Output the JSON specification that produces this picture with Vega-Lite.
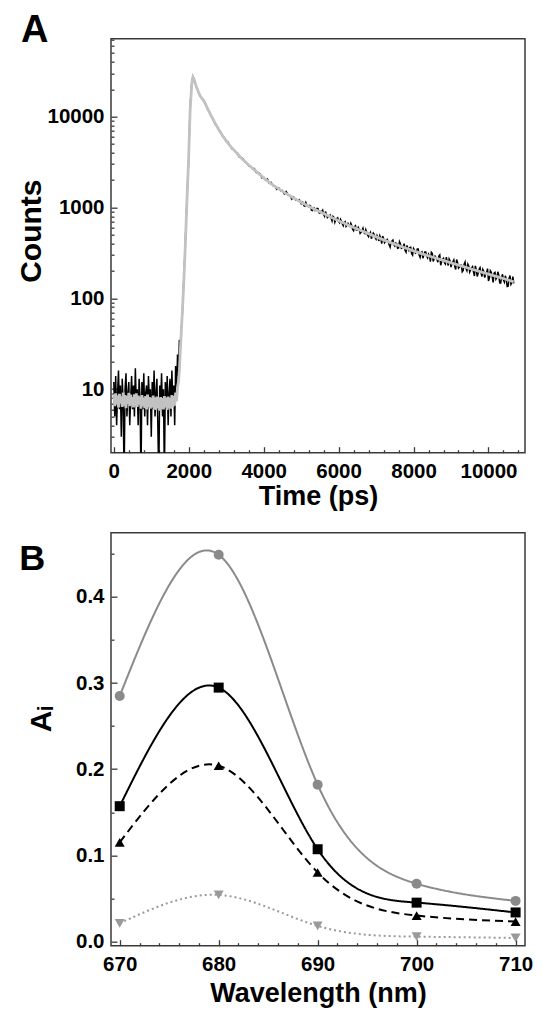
{
  "$schema": "https://vega.github.io/schema/vega-lite/v6.json",
  "padding": {"left": 16, "top": 10.7, "right": 8, "bottom": 5},
  "background": "white",
  "config": {
    "font": "Liberation Sans",
    "view": {"stroke": "#3a3a3a", "strokeWidth": 1.5},
    "concat": {"spacing": 21},
    "axis": {"domain": false, "grid": false, "tickColor": "#3a3a3a", "tickWidth": 1.3, "tickSize": -6, "labelFont": "Liberation Sans", "labelFontSize": 20.5, "labelFontWeight": "bold", "labelColor": "black", "titleFont": "Liberation Sans", "titleFontWeight": "bold", "titleColor": "black", "labelFlush": false, "labelOverlap": false},
    "axisX": {"labelPadding": 14.5, "titleFontSize": 27, "titlePadding": 1.5},
    "axisY": {"labelPadding": 13, "titleFontSize": 30},
    "title": {"font": "Liberation Sans", "fontWeight": "bold", "color": "black", "anchor": "start", "frame": "bounds", "baseline": "alphabetic"},
    "legend": {"orient": "none", "legendX": 184, "legendY": 8.3, "padding": 0,
               "titleFont": "Liberation Sans", "titleFontSize": 21.5, "titleFontWeight": "bold", "titleColor": "black", "titlePadding": 7, "titleLimit": 500, "titleAnchor": "end",
               "labelFont": "Liberation Sans", "labelFontSize": 21.5, "labelFontWeight": "normal", "labelColor": "black", "labelOffset": 35.4, "labelLimit": 400, "rowPadding": 4.1,
               "symbolSize": 150, "symbolStrokeWidth": 2, "symbolOpacity": 1}
  },
  "datasets": {
    "obs": [
      {"t":0,"c":12},{"t":25,"c":5},{"t":50,"c":14},{"t":75,"c":4},{"t":100,"c":9},{"t":125,"c":16},{"t":150,"c":6},{"t":175,"c":11},{"t":200,"c":3},{"t":225,"c":13},{"t":250,"c":7},{"t":275,"c":1},{"t":300,"c":10},{"t":325,"c":15},{"t":350,"c":5},{"t":375,"c":9},{"t":400,"c":12},{"t":425,"c":4},{"t":450,"c":8},{"t":475,"c":14},{"t":500,"c":6},{"t":525,"c":11},{"t":550,"c":5},{"t":575,"c":17},{"t":600,"c":7},{"t":625,"c":10},{"t":650,"c":4},{"t":675,"c":13},{"t":700,"c":8},{"t":725,"c":1},{"t":750,"c":12},{"t":775,"c":6},{"t":800,"c":15},{"t":825,"c":5},{"t":850,"c":9},{"t":875,"c":11},{"t":900,"c":4},{"t":925,"c":14},{"t":950,"c":7},{"t":975,"c":10},{"t":1000,"c":3},{"t":1025,"c":12},{"t":1050,"c":6},{"t":1075,"c":16},{"t":1100,"c":5},{"t":1125,"c":9},{"t":1150,"c":13},{"t":1175,"c":4},{"t":1200,"c":1},{"t":1225,"c":11},{"t":1250,"c":7},{"t":1275,"c":15},{"t":1300,"c":5},{"t":1325,"c":10},{"t":1350,"c":1},{"t":1375,"c":12},{"t":1400,"c":6},{"t":1425,"c":14},{"t":1450,"c":4},{"t":1475,"c":9},{"t":1500,"c":13},{"t":1525,"c":5},{"t":1550,"c":16},{"t":1575,"c":7},{"t":1600,"c":11},{"t":1625,"c":4},{"t":1650,"c":18},{"t":1675,"c":8},{"t":1700,"c":24},{"t":1725,"c":14},{"t":1750,"c":35},{"t":1775,"c":28},{"t":1800,"c":45},{"t":1825,"c":62},{"t":1850,"c":110},{"t":1875,"c":190},{"t":1900,"c":330},{"t":1925,"c":640},{"t":1950,"c":1180},{"t":1975,"c":2100},{"t":2000,"c":3400},{"t":2025,"c":8900},{"t":2050,"c":15500},{"t":2075,"c":22000},{"t":2100,"c":26200},{"t":2125,"c":27100},
      {"t":2150,"c":25190},{"t":2200,"c":21382},{"t":2250,"c":19041},{"t":2300,"c":16805},{"t":2350,"c":16013},{"t":2400,"c":14976},{"t":2450,"c":13811},{"t":2500,"c":12178},{"t":2550,"c":11253},{"t":2600,"c":10139},{"t":2650,"c":9434},{"t":2700,"c":8325},{"t":2750,"c":7809},{"t":2800,"c":7166},{"t":2850,"c":6782},{"t":2900,"c":6097},{"t":2950,"c":5853},{"t":3000,"c":5334},{"t":3050,"c":5242},{"t":3100,"c":4779},{"t":3150,"c":4443},{"t":3200,"c":4340},{"t":3250,"c":4094},{"t":3300,"c":3968},{"t":3350,"c":3572},{"t":3400,"c":3524},{"t":3450,"c":3437},{"t":3500,"c":3160},{"t":3550,"c":3071},{"t":3600,"c":2865},{"t":3650,"c":2842},{"t":3700,"c":2674},{"t":3750,"c":2687},{"t":3800,"c":2430},{"t":3850,"c":2400},{"t":3900,"c":2362},{"t":3950,"c":2115},{"t":4000,"c":2148},{"t":4050,"c":1995},{"t":4100,"c":2057},{"t":4150,"c":1851},{"t":4200,"c":1888},{"t":4250,"c":1743},{"t":4300,"c":1713},{"t":4350,"c":1581},{"t":4400,"c":1644},{"t":4450,"c":1526},{"t":4500,"c":1536},{"t":4550,"c":1410},{"t":4600,"c":1492},{"t":4650,"c":1373},{"t":4700,"c":1358},{"t":4750,"c":1233},{"t":4800,"c":1306},{"t":4850,"c":1207},{"t":4900,"c":1210},{"t":4950,"c":1218},{"t":5000,"c":1103},{"t":5050,"c":1135},{"t":5100,"c":1036},{"t":5150,"c":1070},{"t":5200,"c":1020},{"t":5250,"c":1045},{"t":5300,"c":925},{"t":5350,"c":990},{"t":5400,"c":937},{"t":5450,"c":972},{"t":5500,"c":864},{"t":5550,"c":898},{"t":5600,"c":839},{"t":5650,"c":901},{"t":5700,"c":774},{"t":5750,"c":803},{"t":5800,"c":766},{"t":5850,"c":800},{"t":5900,"c":687},{"t":5950,"c":753},{"t":6000,"c":704},{"t":6050,"c":740},{"t":6100,"c":659},{"t":6150,"c":683},{"t":6200,"c":619},{"t":6250,"c":668},{"t":6300,"c":620},{"t":6350,"c":635},{"t":6400,"c":554},{"t":6450,"c":630},{"t":6500,"c":566},{"t":6550,"c":574},{"t":6600,"c":532},{"t":6650,"c":591},{"t":6700,"c":517},{"t":6750,"c":534},{"t":6800,"c":476},{"t":6850,"c":532},{"t":6900,"c":491},{"t":6950,"c":505},{"t":7000,"c":447},{"t":7050,"c":466},{"t":7100,"c":488},{"t":7150,"c":400},{"t":7200,"c":456},{"t":7250,"c":422},{"t":7300,"c":446},{"t":7350,"c":386},{"t":7400,"c":416},{"t":7450,"c":438},{"t":7500,"c":377},{"t":7550,"c":400},{"t":7600,"c":359},{"t":7650,"c":400},{"t":7700,"c":361},{"t":7750,"c":400},{"t":7800,"c":322},{"t":7850,"c":352},{"t":7900,"c":361},{"t":7950,"c":310},{"t":8000,"c":353},{"t":8050,"c":315},{"t":8100,"c":350},{"t":8150,"c":299},{"t":8200,"c":319},{"t":8250,"c":276},{"t":8300,"c":324},{"t":8350,"c":293},{"t":8400,"c":306},{"t":8450,"c":253},{"t":8500,"c":312},{"t":8550,"c":273},{"t":8600,"c":280},{"t":8650,"c":250},{"t":8700,"c":300},{"t":8750,"c":254},{"t":8800,"c":276},{"t":8850,"c":238},{"t":8900,"c":253},{"t":8950,"c":271},{"t":9000,"c":221},{"t":9050,"c":252},{"t":9100,"c":225},{"t":9150,"c":267},{"t":9200,"c":215},{"t":9250,"c":234},{"t":9300,"c":196},{"t":9350,"c":237},{"t":9400,"c":213},{"t":9450,"c":238},{"t":9500,"c":194},{"t":9550,"c":217},{"t":9600,"c":195},{"t":9650,"c":228},{"t":9700,"c":174},{"t":9750,"c":209},{"t":9800,"c":192},{"t":9850,"c":208},{"t":9900,"c":169},{"t":9950,"c":192},{"t":10000,"c":155},{"t":10050,"c":201},{"t":10100,"c":172},{"t":10150,"c":189},{"t":10200,"c":162},{"t":10250,"c":196},{"t":10300,"c":148},{"t":10350,"c":170},{"t":10400,"c":159},{"t":10450,"c":177},{"t":10500,"c":135},{"t":10550,"c":167},{"t":10600,"c":142},{"t":10650,"c":173},{"t":10675,"c":146},
      {"t":5025,"c":1153},{"t":5075,"c":1048},{"t":5125,"c":1133},{"t":5175,"c":1030},{"t":5225,"c":1053},{"t":5275,"c":933},{"t":5325,"c":982},{"t":5375,"c":923},{"t":5425,"c":979},{"t":5475,"c":874},{"t":5525,"c":905},{"t":5575,"c":932},{"t":5625,"c":800},{"t":5675,"c":836},{"t":5725,"c":793},{"t":5775,"c":827},{"t":5825,"c":711},{"t":5875,"c":780},{"t":5925,"c":736},{"t":5975,"c":769},{"t":6025,"c":680},{"t":6075,"c":708},{"t":6125,"c":630},{"t":6175,"c":698},{"t":6225,"c":639},{"t":6275,"c":633},{"t":6325,"c":671},{"t":6375,"c":574},{"t":6425,"c":614},{"t":6475,"c":566},{"t":6525,"c":603},{"t":6575,"c":518},{"t":6625,"c":561},{"t":6675,"c":529},{"t":6725,"c":571},{"t":6775,"c":495},{"t":6825,"c":512},{"t":6875,"c":453},{"t":6925,"c":523},{"t":6975,"c":465},{"t":7025,"c":492},{"t":7075,"c":428},{"t":7125,"c":459},{"t":7175,"c":485},{"t":7225,"c":409},{"t":7275,"c":440},{"t":7325,"c":417},{"t":7375,"c":366},{"t":7425,"c":428},{"t":7475,"c":390},{"t":7525,"c":407},{"t":7575,"c":356},{"t":7625,"c":421},{"t":7675,"c":355},{"t":7725,"c":369},{"t":7775,"c":336},{"t":7825,"c":383},{"t":7875,"c":336},{"t":7925,"c":365},{"t":7975,"c":299},{"t":8025,"c":339},{"t":8075,"c":323},{"t":8125,"c":350},{"t":8175,"c":282},{"t":8225,"c":325},{"t":8275,"c":300},{"t":8325,"c":324},{"t":8375,"c":279},{"t":8425,"c":291},{"t":8475,"c":321},{"t":8525,"c":254},{"t":8575,"c":291},{"t":8625,"c":267},{"t":8675,"c":291},{"t":8725,"c":231},{"t":8775,"c":269},{"t":8825,"c":246},{"t":8875,"c":284},{"t":8925,"c":230},{"t":8975,"c":257},{"t":9025,"c":241},{"t":9075,"c":264},{"t":9125,"c":208},{"t":9175,"c":249},{"t":9225,"c":221},{"t":9275,"c":232},{"t":9325,"c":203},{"t":9375,"c":251},{"t":9425,"c":201},{"t":9475,"c":226},{"t":9525,"c":205},{"t":9575,"c":224},{"t":9625,"c":176},{"t":9675,"c":205},{"t":9725,"c":189},{"t":9775,"c":218},{"t":9825,"c":173},{"t":9875,"c":198},{"t":9925,"c":187},{"t":9975,"c":212},{"t":10025,"c":167},{"t":10075,"c":193},{"t":10125,"c":150},{"t":10175,"c":193},{"t":10225,"c":169},{"t":10275,"c":180},{"t":10325,"c":147},{"t":10375,"c":184},{"t":10425,"c":151},{"t":10475,"c":162},{"t":10525,"c":136},{"t":10575,"c":178},{"t":10625,"c":148}
    ],
    "fit": [
      {"t":0,"c":8.8},{"t":25,"c":6.5},{"t":50,"c":9.0},{"t":75,"c":6.8},{"t":100,"c":8.5},{"t":125,"c":6.3},{"t":150,"c":8.9},{"t":175,"c":7.0},{"t":200,"c":8.3},{"t":225,"c":6.4},{"t":250,"c":9.2},{"t":275,"c":6.6},{"t":300,"c":8.6},{"t":325,"c":6.2},{"t":350,"c":8.4},{"t":375,"c":6.9},{"t":400,"c":9.1},{"t":425,"c":6.5},{"t":450,"c":8.7},{"t":475,"c":6.7},{"t":500,"c":8.2},{"t":525,"c":6.3},{"t":550,"c":8.8},{"t":575,"c":6.6},{"t":600,"c":9.0},{"t":625,"c":6.4},{"t":650,"c":8.5},{"t":675,"c":6.8},{"t":700,"c":8.3},{"t":725,"c":6.1},{"t":750,"c":8.6},{"t":775,"c":6.5},{"t":800,"c":8.1},{"t":825,"c":6.2},{"t":850,"c":8.4},{"t":875,"c":6.0},{"t":900,"c":8.7},{"t":925,"c":6.4},{"t":950,"c":8.2},{"t":975,"c":6.1},{"t":1000,"c":8.0},{"t":1025,"c":6.3},{"t":1050,"c":8.5},{"t":1075,"c":6.0},{"t":1100,"c":8.1},{"t":1125,"c":5.9},{"t":1150,"c":8.3},{"t":1175,"c":6.2},{"t":1200,"c":7.9},{"t":1225,"c":5.8},{"t":1250,"c":8.2},{"t":1275,"c":6.1},{"t":1300,"c":8.0},{"t":1325,"c":6.0},{"t":1350,"c":8.4},{"t":1375,"c":6.3},{"t":1400,"c":8.1},{"t":1425,"c":5.9},{"t":1450,"c":8.3},{"t":1475,"c":6.2},{"t":1500,"c":8.0},{"t":1525,"c":6.1},{"t":1550,"c":8.6},{"t":1575,"c":6.4},{"t":1600,"c":8.4},{"t":1625,"c":6.6},{"t":1650,"c":9.2},{"t":1675,"c":7.4},{"t":1700,"c":10.5},{"t":1725,"c":12},{"t":1750,"c":16},{"t":1775,"c":27},{"t":1820,"c":60},{"t":1863,"c":135},{"t":1907,"c":370},{"t":1952,"c":1200},{"t":1995,"c":3300},{"t":2037,"c":11800},{"t":2082,"c":23300},{"t":2112,"c":27100},{"t":2150,"c":25000},{"t":2200,"c":21500},{"t":2250,"c":19000},{"t":2300,"c":17000},{"t":2350,"c":15900},{"t":2400,"c":15000},{"t":2500,"c":12300},{"t":2600,"c":10200},{"t":2700,"c":8500},{"t":2800,"c":7200},{"t":2900,"c":6200},{"t":3000,"c":5400},{"t":3100,"c":4800},{"t":3200,"c":4300},{"t":3300,"c":3900},{"t":3400,"c":3500},{"t":3500,"c":3200},{"t":3600,"c":2930},{"t":3700,"c":2700},{"t":3800,"c":2500},{"t":3900,"c":2300},{"t":4000,"c":2120},{"t":4200,"c":1820},{"t":4400,"c":1600},{"t":4600,"c":1420},{"t":4800,"c":1270},{"t":5000,"c":1140},{"t":5200,"c":1030},{"t":5400,"c":940},{"t":5600,"c":860},{"t":5800,"c":780},{"t":6000,"c":715},{"t":6250,"c":640},{"t":6500,"c":580},{"t":6750,"c":525},{"t":7000,"c":475},{"t":7250,"c":432},{"t":7500,"c":395},{"t":7750,"c":362},{"t":8000,"c":333},{"t":8250,"c":307},{"t":8500,"c":285},{"t":8750,"c":265},{"t":9000,"c":246},{"t":9250,"c":229},{"t":9500,"c":213},{"t":9750,"c":198},{"t":10000,"c":185},{"t":10250,"c":172},{"t":10500,"c":160},{"t":10675,"c":152}
    ],
    "amp": [
      {"wl":670,"tau":"31 ps","a":0.157},{"wl":680,"tau":"31 ps","a":0.2947},{"wl":690,"tau":"31 ps","a":0.107},{"wl":700,"tau":"31 ps","a":0.045},{"wl":710,"tau":"31 ps","a":0.0336},
      {"wl":670,"tau":"164 ps","a":0.285},{"wl":680,"tau":"164 ps","a":0.449},{"wl":690,"tau":"164 ps","a":0.182},{"wl":700,"tau":"164 ps","a":0.067},{"wl":710,"tau":"164 ps","a":0.047},
      {"wl":670,"tau":"571 ps","a":0.115},{"wl":680,"tau":"571 ps","a":0.204},{"wl":690,"tau":"571 ps","a":0.080},{"wl":700,"tau":"571 ps","a":0.030},{"wl":710,"tau":"571 ps","a":0.023},
      {"wl":670,"tau":"1.9 ns","a":0.021},{"wl":680,"tau":"1.9 ns","a":0.054},{"wl":690,"tau":"1.9 ns","a":0.018},{"wl":700,"tau":"1.9 ns","a":0.0055},{"wl":710,"tau":"1.9 ns","a":0.004}
    ]
  },
  "vconcat": [
    {
      "width": 414,
      "height": 414,
      "title": {"text": "A", "fontSize": 38, "offset": -11, "dx": 4},
      "layer": [
        {
          "data": {"name": "obs"},
          "mark": {"type": "line", "color": "black", "strokeWidth": 1.5, "clip": true},
          "encoding": {
            "x": {"field": "t", "type": "quantitative", "scale": {"domain": [-75, 10975], "nice": false, "zero": false},
                  "axis": {"orient": "bottom", "values": [0, 2000, 4000, 6000, 8000, 10000], "format": "d", "title": "Time (ps)"}},
            "y": {"field": "c", "type": "quantitative", "scale": {"type": "log", "domain": [2, 72000], "nice": false},
                  "axis": {"orient": "left", "values": [10, 100, 1000, 10000], "format": "d", "title": "Counts", "titlePadding": 0, "titleY": 192}}
          }
        },
        {
          "data": {"name": "fit"},
          "mark": {"type": "line", "color": "#c2c2c2", "strokeWidth": 2.8, "clip": true},
          "encoding": {
            "x": {"field": "t", "type": "quantitative", "scale": {"domain": [-75, 10975], "nice": false, "zero": false},
                  "axis": {"orient": "bottom", "values": [400, 800, 1200, 1600, 2400, 2800, 3200, 3600, 4400, 4800, 5200, 5600, 6400, 6800, 7200, 7600, 8400, 8800, 9200, 9600, 10400, 10800], "labels": false, "title": null, "tickSize": -3}},
            "y": {"field": "c", "type": "quantitative", "scale": {"type": "log", "domain": [2, 72000], "nice": false},
                  "axis": {"orient": "left", "values": [3, 4, 5, 6, 7, 8, 9, 20, 30, 40, 50, 60, 70, 80, 90, 200, 300, 400, 500, 600, 700, 800, 900, 2000, 3000, 4000, 5000, 6000, 7000, 8000, 9000, 20000, 30000, 40000, 50000, 60000, 70000], "labels": false, "title": null, "tickSize": -3}}
          }
        }
      ],
      "resolve": {"axis": {"x": "independent", "y": "independent"}}
    },
    {
      "width": 414,
      "height": 413,
      "title": {"text": "B", "fontSize": 36, "offset": -45, "dx": -7.3},
      "data": {"name": "amp"},
      "layer": [
        {
          "mark": {"type": "line", "interpolate": "natural", "strokeWidth": 2},
          "encoding": {
            "x": {"field": "wl", "type": "quantitative", "scale": {"domain": [669.12, 710.95], "nice": false, "zero": false},
                  "axis": {"orient": "bottom", "values": [670, 680, 690, 700, 710], "format": "d", "title": "Wavelength (nm)", "titlePadding": 5.8}},
            "y": {"field": "a", "type": "quantitative", "scale": {"domain": [-0.005, 0.4746], "nice": false, "zero": false},
                  "axis": {"orient": "left", "values": [0, 0.1, 0.2, 0.3, 0.4], "format": ".1f", "title": "Aᵢ", "titlePadding": 19, "titleY": 186}},
            "color": {"field": "tau", "type": "nominal", "scale": {"domain": ["31 ps", "164 ps", "571 ps", "1.9 ns"], "range": ["#000000", "#8a8a8a", "#000000", "#9a9a9a"]}, "legend": null},
            "strokeDash": {"field": "tau", "type": "nominal", "scale": {"domain": ["31 ps", "164 ps", "571 ps", "1.9 ns"], "range": [[1, 0], [1, 0], [8, 5], [2, 3]]}, "legend": null}
          }
        },
        {
          "mark": {"type": "point", "filled": true, "opacity": 1, "size": 100},
          "encoding": {
            "x": {"field": "wl", "type": "quantitative", "scale": {"domain": [669.12, 710.95], "nice": false, "zero": false},
                  "axis": {"orient": "bottom", "values": [672, 674, 676, 678, 682, 684, 686, 688, 692, 694, 696, 698, 702, 704, 706, 708], "labels": false, "title": null, "tickSize": -3}},
            "y": {"field": "a", "type": "quantitative", "scale": {"domain": [-0.005, 0.4746], "nice": false, "zero": false},
                  "axis": {"orient": "left", "values": [0.05, 0.15, 0.25, 0.35, 0.45], "labels": false, "title": null, "tickSize": -3}},
            "color": {"field": "tau", "type": "nominal", "scale": {"domain": ["31 ps", "164 ps", "571 ps", "1.9 ns"], "range": ["#000000", "#8a8a8a", "#000000", "#9a9a9a"]}, "legend": null},
            "shape": {"field": "tau", "type": "nominal", "scale": {"domain": ["31 ps", "164 ps", "571 ps", "1.9 ns"], "range": ["square", "circle", "triangle-up", "triangle-down"]}, "legend": null}
          }
        },
        {
          "mark": {"type": "point", "filled": true, "opacity": 0, "strokeWidth": 2, "size": 150},
          "encoding": {
            "x": {"field": "wl", "type": "quantitative", "scale": {"domain": [669.12, 710.95], "nice": false, "zero": false}, "axis": null},
            "y": {"field": "a", "type": "quantitative", "scale": {"domain": [-0.005, 0.4746], "nice": false, "zero": false}, "axis": null},
            "color": {"field": "tau", "type": "nominal", "scale": {"domain": ["31 ps", "164 ps", "571 ps", "1.9 ns"], "range": ["#000000", "#8a8a8a", "#000000", "#9a9a9a"]},
                      "legend": {"title": "Tau\u00a0\u00a0\u00a0\u00a0\u00a0Amplitude", "labelExpr": "datum.value === '31 ps' ? '\u00a0\u00a031 ps\u00a0\u00a0\u00a028.7%\u00a0\u00a0\u00a0\u00a0\u00a0' : datum.value === '164 ps' ? '164 ps\u00a0\u00a0\u00a046.2%\u00a0\u00a0\u00a0\u00a0\u00a0' : datum.value === '571 ps' ? '571 ps\u00a0\u00a0\u00a020.2%\u00a0\u00a0\u00a0\u00a0\u00a0' : '\u00a01.9 ns\u00a0\u00a0\u00a0\u00a0\u00a04.9%\u00a0\u00a0\u00a0\u00a0\u00a0'"}},
            "stroke": {"field": "tau", "type": "nominal", "scale": {"domain": ["31 ps", "164 ps", "571 ps", "1.9 ns"], "range": ["#000000", "#8a8a8a", "#000000", "#9a9a9a"]},
                      "legend": {"title": "Tau\u00a0\u00a0\u00a0\u00a0\u00a0Amplitude", "labelExpr": "datum.value === '31 ps' ? '\u00a0\u00a031 ps\u00a0\u00a0\u00a028.7%\u00a0\u00a0\u00a0\u00a0\u00a0' : datum.value === '164 ps' ? '164 ps\u00a0\u00a0\u00a046.2%\u00a0\u00a0\u00a0\u00a0\u00a0' : datum.value === '571 ps' ? '571 ps\u00a0\u00a0\u00a020.2%\u00a0\u00a0\u00a0\u00a0\u00a0' : '\u00a01.9 ns\u00a0\u00a0\u00a0\u00a0\u00a04.9%\u00a0\u00a0\u00a0\u00a0\u00a0'"}},
            "shape": {"field": "tau", "type": "nominal", "scale": {"domain": ["31 ps", "164 ps", "571 ps", "1.9 ns"], "range": ["square", "circle", "triangle-up", "triangle-down"]},
                      "legend": {"title": "Tau\u00a0\u00a0\u00a0\u00a0\u00a0Amplitude", "labelExpr": "datum.value === '31 ps' ? '\u00a0\u00a031 ps\u00a0\u00a0\u00a028.7%\u00a0\u00a0\u00a0\u00a0\u00a0' : datum.value === '164 ps' ? '164 ps\u00a0\u00a0\u00a046.2%\u00a0\u00a0\u00a0\u00a0\u00a0' : datum.value === '571 ps' ? '571 ps\u00a0\u00a0\u00a020.2%\u00a0\u00a0\u00a0\u00a0\u00a0' : '\u00a01.9 ns\u00a0\u00a0\u00a0\u00a0\u00a04.9%\u00a0\u00a0\u00a0\u00a0\u00a0'"}},
            "strokeDash": {"field": "tau", "type": "nominal", "scale": {"domain": ["31 ps", "164 ps", "571 ps", "1.9 ns"], "range": [[1, 0], [1, 0], [8, 5], [2, 3]]},
                      "legend": {"title": "Tau\u00a0\u00a0\u00a0\u00a0\u00a0Amplitude", "labelExpr": "datum.value === '31 ps' ? '\u00a0\u00a031 ps\u00a0\u00a0\u00a028.7%\u00a0\u00a0\u00a0\u00a0\u00a0' : datum.value === '164 ps' ? '164 ps\u00a0\u00a0\u00a046.2%\u00a0\u00a0\u00a0\u00a0\u00a0' : datum.value === '571 ps' ? '571 ps\u00a0\u00a0\u00a020.2%\u00a0\u00a0\u00a0\u00a0\u00a0' : '\u00a01.9 ns\u00a0\u00a0\u00a0\u00a0\u00a04.9%\u00a0\u00a0\u00a0\u00a0\u00a0'"}}
          }
        }
      ],
      "resolve": {"axis": {"x": "independent", "y": "independent"}}
    }
  ]
}
